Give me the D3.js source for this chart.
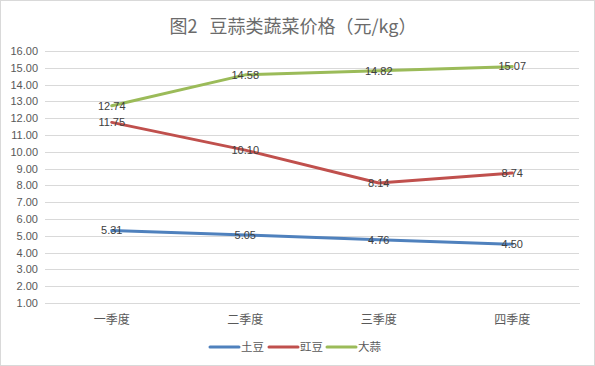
<!DOCTYPE html>
<html>
<head>
<meta charset="utf-8">
<script src="https://cdn.jsdelivr.net/npm/d3@7"></script>
<style>
  body { margin: 0; background: #fff; }
  svg { display: block; }
  text { font-family: "Liberation Sans", "Noto Sans CJK SC", sans-serif; }
  .cjk { font-family: "Noto Sans CJK SC", sans-serif; }
</style>
</head>
<body>
<div id="chart"></div>
<script>
const width = 595;
const height = 366;

// data
const quarters = ['一季度', '二季度', '三季度', '四季度'];
const seriesNames = ['土豆', '豇豆', '大蒜'];
const potato = [5.31, 5.05, 4.76, 4.50];
const cowpea = [11.75, 10.10, 8.14, 8.74];
const garlic = [12.74, 14.58, 14.82, 15.07];
const yTicks = d3.range(1, 17, 1);

const colors = ['#4F81BD', '#C0504D', '#9BBB59'];
const series = [potato, cowpea, garlic].map((values, i) => ({
  name: seriesNames[i],
  color: colors[i],
  values
}));

const margin = { top: 51, right: 16, bottom: 63, left: 45 };

const svg = d3.select('#chart')
  .append('svg')
  .attr('width', width)
  .attr('height', height);

// outer border
svg.append('rect')
  .attr('x', 0.5).attr('y', 0.5)
  .attr('width', width - 1).attr('height', height - 1)
  .attr('fill', '#fff')
  .attr('stroke', '#d9d9d9');

const xScale = d3.scaleBand()
  .domain(quarters)
  .range([margin.left, width - margin.right]);

const yScale = d3.scaleLinear()
  .domain([1, 16])
  .range([height - margin.bottom, margin.top]);

// title (two parts, wider gap between them)
const title = svg.append('text')
  .attr('class', 'cjk')
  .attr('x', 293)
  .attr('y', 33)
  .attr('text-anchor', 'middle')
  .attr('font-size', 18)
  .attr('fill', '#6b6b6b');
title.append('tspan').text('图2');
title.append('tspan').attr('dx', 12).text('豆蒜类蔬菜价格（元/kg）');

// grid lines + y labels
const yAxis = d3.axisLeft(yScale)
  .tickValues(yTicks)
  .tickSize(-(width - margin.left - margin.right))
  .tickPadding(7)
  .tickFormat(d3.format('.2f'));

svg.append('g')
  .attr('transform', `translate(${margin.left},0)`)
  .call(yAxis)
  .call(g => g.select('.domain').remove())
  .call(g => g.selectAll('line').attr('stroke', '#d9d9d9').attr('shape-rendering', 'crispEdges'))
  .call(g => g.selectAll('text').attr('font-size', 11).attr('fill', '#595959')
    .attr('font-family', 'Liberation Sans, sans-serif'));

// x axis
const xAxis = d3.axisBottom(xScale).tickSize(0).tickPadding(12);
svg.append('g')
  .attr('transform', `translate(0,${height - margin.bottom})`)
  .call(xAxis)
  .call(g => g.select('.domain').attr('stroke', '#d9d9d9').attr('shape-rendering', 'crispEdges'))
  .call(g => g.selectAll('text').attr('class', 'cjk').attr('font-size', 12).attr('fill', '#595959'));

const cx = (i) => xScale(quarters[i]) + xScale.bandwidth() / 2;

const line = d3.line()
  .x((d, i) => cx(i))
  .y(d => yScale(d));

svg.append('g')
  .selectAll('path')
  .data(series)
  .join('path')
  .attr('fill', 'none')
  .attr('stroke', d => d.color)
  .attr('stroke-width', 3)
  .attr('stroke-linecap', 'round')
  .attr('stroke-linejoin', 'round')
  .attr('d', d => line(d.values));

// data labels, centred on the points
const labels = series.flatMap(s => s.values.map((v, i) => ({ v, i })));
svg.append('g')
  .selectAll('text')
  .data(labels)
  .join('text')
  .attr('x', d => cx(d.i))
  .attr('y', d => yScale(d.v))
  .attr('dy', '0.35em')
  .attr('text-anchor', 'middle')
  .attr('font-size', 11)
  .attr('fill', '#404040')
  .text(d => d.v.toFixed(2));

// legend
const legendX = [210, 269, 327];
const legend = svg.append('g')
  .selectAll('g')
  .data(series)
  .join('g')
  .attr('transform', (d, i) => `translate(${legendX[i]},347)`);

legend.append('line')
  .attr('x1', 0).attr('x2', 29)
  .attr('stroke', d => d.color)
  .attr('stroke-width', 3)
  .attr('stroke-linecap', 'round');

legend.append('text')
  .attr('class', 'cjk')
  .attr('x', 31)
  .attr('dy', '0.35em')
  .attr('font-size', 11.5)
  .attr('fill', '#595959')
  .text(d => d.name);
</script>
</body>
</html>
